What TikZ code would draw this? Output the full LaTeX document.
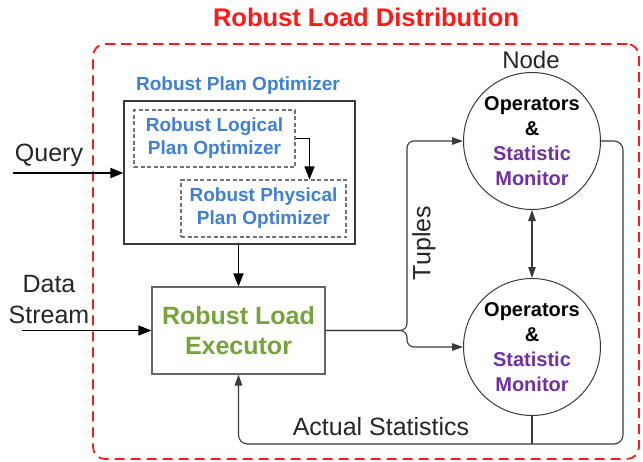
\documentclass[tikz,border=0pt]{standalone}
\usepackage{fontspec}
\setmainfont{Liberation Sans}
\usetikzlibrary{arrows.meta, positioning, calc}
\definecolor{clrTitle}{HTML}{FF1A1A}
\definecolor{clrOpt}{HTML}{3F7FD6}
\definecolor{clrExec}{HTML}{77A33C}
\definecolor{clrMon}{HTML}{7030A0}
\definecolor{clrLine}{HTML}{3A3A3A}

\begin{document}
\begin{tikzpicture}[x=1pt, y=-1pt,
    box/.style={rectangle, draw=clrLine, line width=1.1pt, inner sep=0pt, align=center},
    subbox/.style={rectangle, draw=black!55, dashed, dash pattern=on 4pt off 2.5pt, line width=1.1pt, minimum width=161pt, minimum height=57pt, align=center, font=\fontsize{19}{23}\selectfont\bfseries, text=clrOpt},
    monitor/.style={circle, draw=clrLine, line width=1pt, minimum size=137pt, inner sep=0pt, align=center, font=\fontsize{20}{25}\selectfont\bfseries},
    lbl/.style={font=\fontsize{25}{31}\selectfont, text=black!85, align=center},
    arrow/.style={-{Triangle[length=13pt, width=10pt]}, line width=1.6pt},
    thinarrow/.style={-{Triangle[length=11pt, width=7.5pt]}, line width=1.1pt, clrLine},
    line/.style={line width=1.1pt, clrLine},
]

\useasboundingbox (0,0) rectangle (643,461);

% Title and frame
\node[font=\fontsize{25.5}{30}\selectfont\bfseries, text=clrTitle] (title) at (366,17) {Robust Load Distribution};
\node[draw=clrTitle, dash pattern=on 10pt off 6pt, line width=1.8pt, rounded corners=12pt, minimum width=546pt, minimum height=415pt] (frame) at (366,251.5) {};

% Plan optimizer
\node[box, minimum width=231pt, minimum height=143pt] (planopt) at (239.5,172.5) {};
\node[font=\fontsize{19}{23}\selectfont\bfseries, text=clrOpt] (planlbl) at (238,86) {Robust Plan Optimizer};
\node[subbox] (logical) at (214.5,138.5) {Robust Logical\\Plan Optimizer};
\node[subbox, minimum width=165pt] (physical) at (263.5,208.5) {Robust Physical\\Plan Optimizer};
\draw[arrow, line width=1.4pt] (logical.east) -| ([xshift=46pt]physical.north);

% Inputs
\node[lbl] (query) at (49,155) {Query};
\coordinate (qin) at (13,173);
\draw[arrow] (qin) -- (qin -| planopt.west);

\node[lbl] (data) at (49,300) {Data\\Stream};
\coordinate (dsin) at (22,330.5);

% Executor
\node[box, draw=black!60, minimum width=173pt, minimum height=87pt, font=\fontsize{25}{30}\selectfont\bfseries, text=clrExec] (exec) at (238.5,330.5) {Robust Load\\Executor};
\draw[arrow] (dsin) -- (exec.west);
\draw[arrow] (planopt.south -| exec.north) -- (exec.north);

% Monitors
\node[lbl, font=\fontsize{24}{28}\selectfont] (nodelbl) at (531,60) {Node};
\node[monitor] (mon1) at (532,141) {Operators\\\&\\{\color{clrMon}Statistic}\\{\color{clrMon}Monitor}};
\node[monitor] (mon2) at (532,347) {Operators\\\&\\{\color{clrMon}Statistic}\\{\color{clrMon}Monitor}};
\draw[thinarrow, {Triangle[length=11pt, width=7.5pt]}-{Triangle[length=11pt, width=7.5pt]}] (mon1.south) -- (mon2.north);

% Tuples
\coordinate (split) at (407,330.5);
\draw[thinarrow, rounded corners=7pt] (exec.east) -- (split) |- (mon1.west);
\draw[thinarrow, rounded corners=7pt] (exec.east) -- (split) |- (mon2.west);
\node[lbl, rotate=90] (tuples) at (424,243) {Tuples};

% Feedback
\coordinate (fbcorner) at (623,444);
\draw[thinarrow, rounded corners=9pt] (mon1.east) -| (fbcorner) -| (exec.south);
\draw[line] (mon2.south) -- (mon2.south |- fbcorner);
\node[lbl] (actual) at (381,427) {Actual Statistics};

\end{tikzpicture}
\end{document}
